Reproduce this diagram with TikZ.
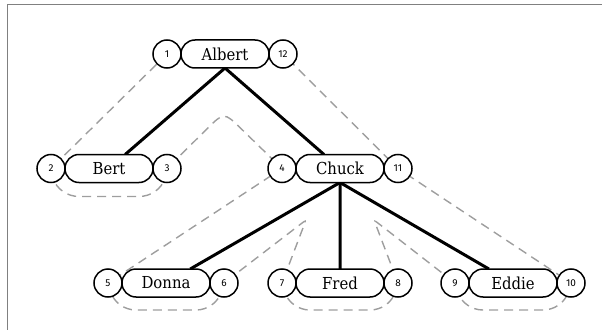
\documentclass[tikz,border=0pt]{standalone}
\usepackage{fontspec}
\setmainfont{DejaVu Serif Condensed}
\newfontfamily\numfont{Fira Sans}
\usetikzlibrary{shapes.misc,calc,backgrounds}
\begin{document}
\begin{tikzpicture}[x=1pt,y=1pt,
  person/.style={draw,line width=1.5pt,fill=white,rounded rectangle,
    minimum width=88pt,minimum height=28pt,inner sep=0pt,outer sep=0pt,
    font=\fontsize{16.5}{18}\selectfont},
  num/.style={draw,line width=1.5pt,fill=white,circle,minimum size=28pt,
    inner sep=0pt,outer sep=0pt,font=\numfont\fontsize{10}{12}\selectfont},
  edge/.style={line width=3pt},
  tour/.style={draw=black!38,line width=1.4pt,dash pattern=on 9pt off 6pt},
  frame/.style={draw=black!50,line width=1pt}]
\useasboundingbox (0,0) rectangle (602,330);

% frame
\draw[frame] (602,325) -- (7,325) -- (7,0);

% tree nodes with their visit numbers
\node[person] (albert) at (225,276) {Albert};
\node[num,anchor=east] (n1)  at (albert.west) {1};
\node[num,anchor=west] (n12) at (albert.east) {12};

\node[person] (bert) at (109,161.5) {Bert};
\node[num,anchor=east] (n2) at (bert.west) {2};
\node[num,anchor=west] (n3) at (bert.east) {3};

\node[person] (chuck) at (340,161.5) {Chuck};
\node[num,anchor=east] (n4)  at (chuck.west) {4};
\node[num,anchor=west] (n11) at (chuck.east) {11};

\node[person] (donna) at (166,47) {Donna};
\node[num,anchor=east] (n5) at (donna.west) {5};
\node[num,anchor=west] (n6) at (donna.east) {6};

\node[person] (fred) at (340,47) {Fred};
\node[num,anchor=east] (n7) at (fred.west) {7};
\node[num,anchor=west] (n8) at (fred.east) {8};

\node[person] (eddie) at (513,47) {Eddie};
\node[num,anchor=east] (n9)  at (eddie.west) {9};
\node[num,anchor=west] (n10) at (eddie.east) {10};

% turning points of the tour between siblings
\coordinate (apA) at (224,218);
\coordinate (apB) at (306,110);
\coordinate (apC) at (374,110);

\begin{scope}[on background layer]
  % Euler tour around the tree
  \draw[tour] (n1.center) -- (n2.center)
    -- ($(bert.center)+(-30,0)+(200:28)$) arc[start angle=200,end angle=270,radius=28]
    -- ($(bert.center)+(30,-28)$) arc[start angle=270,end angle=340,radius=28]
    -- (n3.center) -- ($(apA)!24pt!(n3.center)$) .. controls (apA) .. ($(apA)!24pt!(n4.center)$)
    -- (n4.center) -- (n5.center)
    -- ($(donna.center)+(-30,0)+(200:27)$) arc[start angle=200,end angle=270,radius=27]
    -- ($(donna.center)+(30,-27)$) arc[start angle=270,end angle=340,radius=27]
    -- (n6.center) -- ($(apB)!6pt!(n6.center)$) .. controls (apB) .. ($(apB)!6pt!(n7.center)$)
    -- (n7.center)
    -- ($(fred.center)+(-30,0)+(200:27)$) arc[start angle=200,end angle=270,radius=27]
    -- ($(fred.center)+(30,-27)$) arc[start angle=270,end angle=340,radius=27]
    -- (n8.center) -- ($(apC)!6pt!(n8.center)$) .. controls (apC) .. ($(apC)!6pt!(n9.center)$)
    -- (n9.center)
    -- ($(eddie.center)+(-30,0)+(200:27)$) arc[start angle=200,end angle=270,radius=27]
    -- ($(eddie.center)+(30,-27)$) arc[start angle=270,end angle=340,radius=27]
    -- (n10.center) -- (n11.center) -- (n12.center);

  % tree edges
  \draw[edge] (albert.south) -- (bert);
  \draw[edge] (albert.south) -- (chuck);
  \draw[edge] (chuck.south) -- (donna);
  \draw[edge] (chuck.south) -- (fred);
  \draw[edge] (chuck.south) -- (eddie);
\end{scope}
\end{tikzpicture}
\end{document}
